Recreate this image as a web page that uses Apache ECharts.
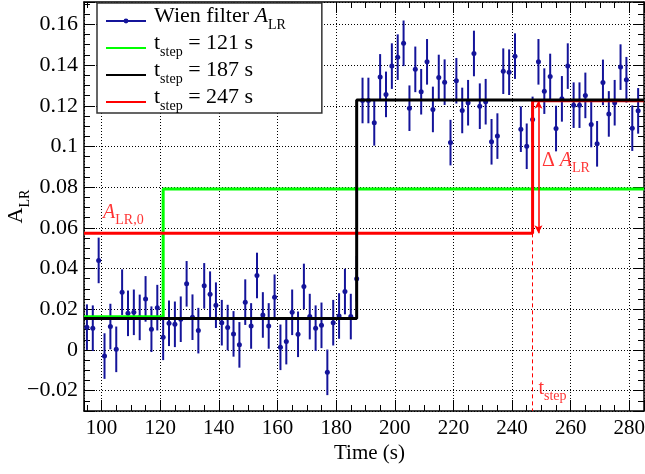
<!DOCTYPE html>
<html><head><meta charset="utf-8">
<script src="https://cdn.jsdelivr.net/npm/echarts@6/dist/echarts.min.js"></script>
<style>html,body{margin:0;padding:0;background:#fff}#c{width:645px;height:474px}</style>
</head><body><div id="c"></div>
<script>
// ---- data ----
const times = [95,97,99,101,103,105,107,109,111,113,115,117,119,121,123,125,127,129,131,133,135,137,139,141,143,145,147,149,151,153,155,157,159,161,163,165,167,169,171,173,175,177,179,181,183,185,187,
189,191,193,195,197,199,201,203,205,207,209,211,213,215,217,219,221,223,225,227,229,231,233,235,237,239,241,243,245,247,249,251,253,255,257,259,261,263,265,267,269,271,273,275,277,279,281,283];
const asym = [0.0112,0.0107,0.0440,-0.0030,0.0115,0.0003,0.0284,0.0180,0.0185,0.0160,0.0251,0.0102,0.0208,0.0062,0.0131,0.0126,0.0151,0.0325,0.0161,0.0095,0.0315,0.0274,0.0220,0.0134,0.0110,0.0079,0.0025,0.0235,0.0118,0.0366,0.0172,0.0118,0.0259,0.0013,0.0041,0.0185,0.0077,0.0312,0.0164,0.0107,0.0121,-0.0110,0.0134,0.0167,0.0287,0.0164,0.0350,
0.1226,0.1226,0.1116,0.1342,0.1256,0.1395,0.1439,0.1507,0.1188,0.1379,0.1269,0.1416,0.1182,0.1339,0.1316,0.1019,0.1323,0.1177,0.1215,0.1457,0.1198,0.1220,0.1023,0.1051,0.1370,0.1365,0.1444,0.1085,0.1001,0.1133,0.1416,0.1272,0.1344,0.1088,0.1234,0.1395,0.1203,0.1203,0.1251,0.1108,0.1013,0.1315,0.1160,0.1215,0.1390,0.1328,0.1090,0.1175];
const errs = [0.0112,0.0112,0.0112,0.0112,0.0112,0.0112,0.0112,0.0112,0.0112,0.0112,0.0112,0.0112,0.0112,0.0112,0.0112,0.0112,0.0112,0.0112,0.0112,0.0112,0.0112,0.0112,0.0112,0.0112,0.0112,0.0112,0.0112,0.0112,0.0112,0.0112,0.0112,0.0112,0.0112,0.0112,0.0112,0.0112,0.0112,0.0112,0.0112,0.0112,0.0112,0.0112,0.0112,0.0112,0.0112,0.0112,0.0112,
0.0112,0.0112,0.0112,0.0112,0.0112,0.0112,0.0112,0.0112,0.0112,0.0112,0.0112,0.0112,0.0112,0.0112,0.0112,0.0112,0.0112,0.0112,0.0112,0.0112,0.0112,0.0112,0.0112,0.0112,0.0112,0.0112,0.0112,0.0112,0.0112,0.0112,0.0112,0.0112,0.0112,0.0112,0.0112,0.0112,0.0112,0.0112,0.0112,0.0112,0.0112,0.0112,0.0112,0.0112,0.0112,0.0112,0.0112,0.0112];
const stepTimes = [121, 187, 247];
const levelBefore = [0.0163, 0.0155, 0.0573];
const levelAfter = [0.0791, 0.1228, 0.1225];
const stepLabels = ['121', '187', '247'];
const xRange = [94, 285];
const yRange = [-0.03, 0.171];

// ---- styles ----
const FONT = 'Liberation Serif';
const BLUE = '#14149a';
const RED = '#ff0000';
const stepColors = ['#00ff00', '#000000', RED];
const stepNames = stepLabels.map(l => 't' + l);

const chart = echarts.init(document.getElementById('c'), null, {renderer: 'canvas'});

function richSet(main, sub, color) {
  return {
    m: {fontFamily: FONT, fontSize: main, lineHeight: main, padding: [0, 0, 5, 0], verticalAlign: 'bottom', color: color},
    mi: {fontFamily: FONT, fontSize: main, fontStyle: 'italic', lineHeight: main, padding: [0, 0, 5, 0], verticalAlign: 'bottom', color: color},
    s: {fontFamily: FONT, fontSize: sub, lineHeight: sub, verticalAlign: 'bottom', color: color}
  };
}

const ptData = times.map((t, i) => [t, asym[i]]);
const ebData = times.map((t, i) => [t, asym[i], errs[i]]);

const stepSeries = stepTimes.map((t, i) => ({
  name: stepNames[i],
  type: 'line',
  symbol: 'none',
  silent: true,
  z: 4 + (i === 1 ? 1 : 0),
  lineStyle: {color: stepColors[i], width: 3},
  itemStyle: {color: stepColors[i]},
  data: [[xRange[0], levelBefore[i]], [t, levelBefore[i]], [t, levelAfter[i]], [xRange[1], levelAfter[i]]]
}));

// arrow + dashed marker on the red step
stepSeries[2].markLine = {
  silent: true,
  animation: false,
  label: {show: false},
  data: [
    [{coord: [249, levelBefore[2]], symbol: 'arrow', symbolSize: [6, 8]},
     {coord: [249, levelAfter[2]], symbol: 'arrow', symbolSize: [6, 8], lineStyle: {color: RED, width: 1.5, type: 'solid'}}],
    [{coord: [stepTimes[2], levelBefore[2]], symbol: 'none'},
     {coord: [stepTimes[2], yRange[0]], symbol: 'none', lineStyle: {color: RED, width: 1, type: [4, 3]}}]
  ]
};

function xLabel(v) {
  if (Math.abs(v / 20 - Math.round(v / 20)) > 1e-6) return '';
  return String(Math.round(v));
}
function yLabel(v) {
  if (Math.abs(v * 50 - Math.round(v * 50)) > 1e-6) return '';
  const r = Math.round(v * 100) / 100;
  return (r < 0 ? '\u2212' : '') + String(Math.abs(r));
}

const axisCommon = {
  axisLine: {show: true, onZero: false, lineStyle: {color: '#000', width: 1.5}},
  axisTick: {show: true, inside: true, length: 11, lineStyle: {color: '#000', width: 1}},
  minorTick: {show: true, splitNumber: 4, length: 6, lineStyle: {color: '#000', width: 1}},
};

const option = {
  animation: false,
  backgroundColor: '#fff',
  grid: {left: 84, right: 1, top: 2, bottom: 63, containLabel: false, outerBoundsMode: 'none'},
  xAxis: [
    Object.assign({
      type: 'value', min: xRange[0], max: xRange[1], splitNumber: 10, position: 'bottom',
      axisLabel: {show: true, margin: 7, fontFamily: FONT, fontSize: 21, color: '#000', formatter: xLabel, showMinLabel: false, showMaxLabel: false},
      splitLine: {show: true, lineStyle: {color: '#000', width: 1, type: [1, 2]}},
      name: 'Time (s)', nameLocation: 'middle', nameGap: 32, nameMoveOverlap: false,
      nameTextStyle: {fontFamily: FONT, fontSize: 21, color: '#000', padding: [0, 0, 0, 11]}
    }, axisCommon),
    Object.assign({
      type: 'value', min: xRange[0], max: xRange[1], splitNumber: 10, position: 'top',
      axisLabel: {show: false}, splitLine: {show: false}
    }, axisCommon)
  ],
  yAxis: [
    Object.assign({
      type: 'value', min: yRange[0], max: yRange[1], splitNumber: 10, position: 'left',
      axisLabel: {show: true, margin: 6, fontFamily: FONT, fontSize: 22, color: '#000', formatter: yLabel, showMinLabel: false, showMaxLabel: false},
      splitLine: {show: true, lineStyle: {color: '#000', width: 1, type: [1, 2]}},
      name: '{m|A}{s|LR}', nameLocation: 'middle', nameGap: 52, nameRotate: 90, nameMoveOverlap: false,
      nameTextStyle: {fontFamily: FONT, fontSize: 22, color: '#000', rich: richSet(22, 14, '#000')}
    }, axisCommon),
    Object.assign({
      type: 'value', min: yRange[0], max: yRange[1], splitNumber: 10, position: 'right',
      axisLabel: {show: false}, splitLine: {show: false}
    }, axisCommon)
  ],
  legend: {
    show: true,
    orient: 'vertical',
    left: 97, top: 3,
    padding: [2, 36, 0, 8],
    itemGap: 0,
    itemWidth: 40, itemHeight: 6,
    backgroundColor: '#fff',
    borderColor: '#333', borderWidth: 1.5, borderRadius: 0,
    selectedMode: false,
    data: [
      {name: 'Wien filter', lineStyle: {opacity: 1, width: 2, color: BLUE}},
      ...stepNames.map(n => ({name: n, itemStyle: {opacity: 0}}))
    ],
    formatter: function (name) {
      if (name === 'Wien filter') return '{m|Wien filter }{mi|A}{s|LR}';
      const i = stepNames.indexOf(name);
      return '{m|t}{s|step}{m| = ' + stepLabels[i] + ' s}';
    },
    textStyle: {fontFamily: FONT, fontSize: 22, color: '#000', padding: [0, 0, 0, 3], rich: richSet(22, 14, '#000')}
  },
  series: [
    {
      name: 'errbars', type: 'custom', silent: true, z: 2,
      data: ebData,
      encode: {x: 0, y: 1},
      renderItem: function (params, api) {
        const x = api.value(0), y = api.value(1), e = api.value(2);
        const p1 = api.coord([x, y - e]);
        const p2 = api.coord([x, y + e]);
        return {type: 'line', shape: {x1: p1[0], y1: p1[1], x2: p2[0], y2: p2[1]}, style: {stroke: BLUE, lineWidth: 2}};
      }
    },
    {
      name: 'Wien filter', type: 'line', silent: true, z: 3,
      data: ptData,
      symbol: 'circle', symbolSize: 5, showSymbol: true,
      lineStyle: {opacity: 0, color: BLUE, width: 2},
      itemStyle: {color: BLUE}
    },
    ...stepSeries,
    {
      name: 'notes', type: 'scatter', silent: true, z: 6,
      symbolSize: 0,
      label: {show: true, position: 'right', distance: 0, color: RED, fontFamily: FONT, rich: richSet(20, 14, RED)},
      data: [
        {value: [100.5, 0.0650], label: {formatter: '{mi|A}{s|LR,0}'}},
        {value: [250.2, 0.0906], label: {formatter: '{m|\u0394 }{mi|A}{s|LR}'}},
        {value: [249.0, -0.0213], label: {formatter: '{m|t}{s|step}'}}
      ]
    }
  ]
};
chart.setOption(option);
</script>
</body></html>
